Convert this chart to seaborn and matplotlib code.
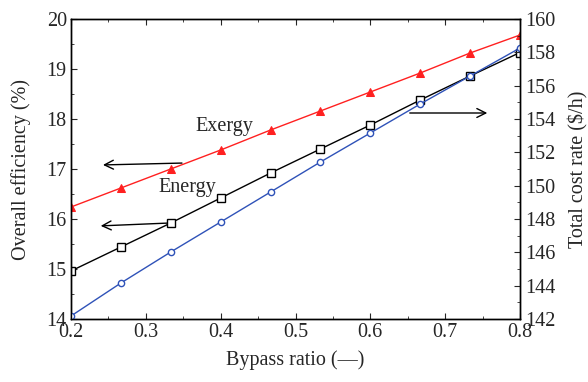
import matplotlib
matplotlib.use("Agg")
import matplotlib.pyplot as plt
import seaborn as sns
import pandas as pd
from matplotlib.ticker import MultipleLocator

sns.set_style("ticks")
plt.rcParams['font.family'] = ['Liberation Serif', 'DejaVu Serif']
plt.rcParams['mathtext.fontset'] = 'stix'

bypass = [0.2, 0.2667, 0.3333, 0.4, 0.4667, 0.5333, 0.6, 0.6667, 0.7333, 0.8]
exergy = [16.24, 16.62, 17.0, 17.38, 17.78, 18.16, 18.54, 18.92, 19.32, 19.68]
energy = [14.96, 15.44, 15.92, 16.42, 16.92, 17.4, 17.88, 18.38, 18.86, 19.33]
cost = [142.18, 144.16, 146.02, 147.82, 149.62, 151.42, 153.16, 154.9, 156.58, 158.26]

df = pd.DataFrame({"bypass": bypass, "exergy": exergy, "energy": energy, "cost": cost})

fig = plt.figure(figsize=(5.88, 3.82), dpi=100)
ax = fig.add_axes([71/588, 1-319/382, 449/588, 300/382])
ax2 = ax.twinx()

red = "#ff2020"
blue = "#2f52b8"

sns.lineplot(data=df, x="bypass", y="exergy", ax=ax, color=red, marker="^", markersize=6,
             markeredgecolor=red, markerfacecolor=red, linewidth=1.0)
sns.lineplot(data=df, x="bypass", y="energy", ax=ax, color="black", marker="s", markersize=5.5,
             markeredgecolor="black", markerfacecolor="white", markeredgewidth=1.0, linewidth=1.0)
sns.lineplot(data=df, x="bypass", y="cost", ax=ax2, color=blue, marker="o", markersize=4.5,
             markeredgecolor=blue, markerfacecolor="white", markeredgewidth=1.0, linewidth=1.0)

ax.set_xlim(0.2, 0.8)
ax.set_ylim(14, 20)
ax2.set_ylim(142, 160)
ax.xaxis.set_major_locator(MultipleLocator(0.1))
ax.xaxis.set_minor_locator(MultipleLocator(0.05))
ax.yaxis.set_major_locator(MultipleLocator(1))
ax.yaxis.set_minor_locator(MultipleLocator(0.5))
ax2.yaxis.set_major_locator(MultipleLocator(2))
ax2.yaxis.set_minor_locator(MultipleLocator(1))

fs = 14.5
ax.tick_params(which="both", direction="in", top=True, right=False, labelsize=fs, pad=3)
ax.tick_params(which="major", length=4)
ax.tick_params(which="minor", length=2.5)
ax2.tick_params(which="both", direction="in", labelsize=fs, pad=4)
ax2.tick_params(which="major", length=4)
ax2.tick_params(which="minor", length=2.5)
ax.set_xticks([0.2, 0.3, 0.4, 0.5, 0.6, 0.7, 0.8])
ax.set_xticklabels(["0.2", "0.3", "0.4", "0.5", "0.6", "0.7", "0.8"])

for a in (ax, ax2):
    for s in a.spines.values():
        s.set_linewidth(1.0)
        s.set_color("black")

ax.set_xlabel("Bypass ratio (—)", fontsize=fs, labelpad=6)
ax.set_ylabel("Overall efficiency (%)", fontsize=fs, labelpad=11)
ax2.set_ylabel("Total cost rate ($/h)", fontsize=fs, labelpad=9)

arrow = dict(arrowstyle="->", color="black", lw=1.0, mutation_scale=16)
ax.annotate("", xy=(0.239, 17.08), xytext=(0.352, 17.12), arrowprops=arrow)
ax.annotate("", xy=(0.236, 15.86), xytext=(0.332, 15.92), arrowprops=arrow)
ax.annotate("", xy=(0.76, 18.12), xytext=(0.649, 18.12), arrowprops=arrow)
ax.text(0.4045, 17.84, "Exergy", fontsize=fs, ha="center", va="center")
ax.text(0.356, 16.62, "Energy", fontsize=fs, ha="center", va="center")

fig.savefig("out.png", dpi=100)
